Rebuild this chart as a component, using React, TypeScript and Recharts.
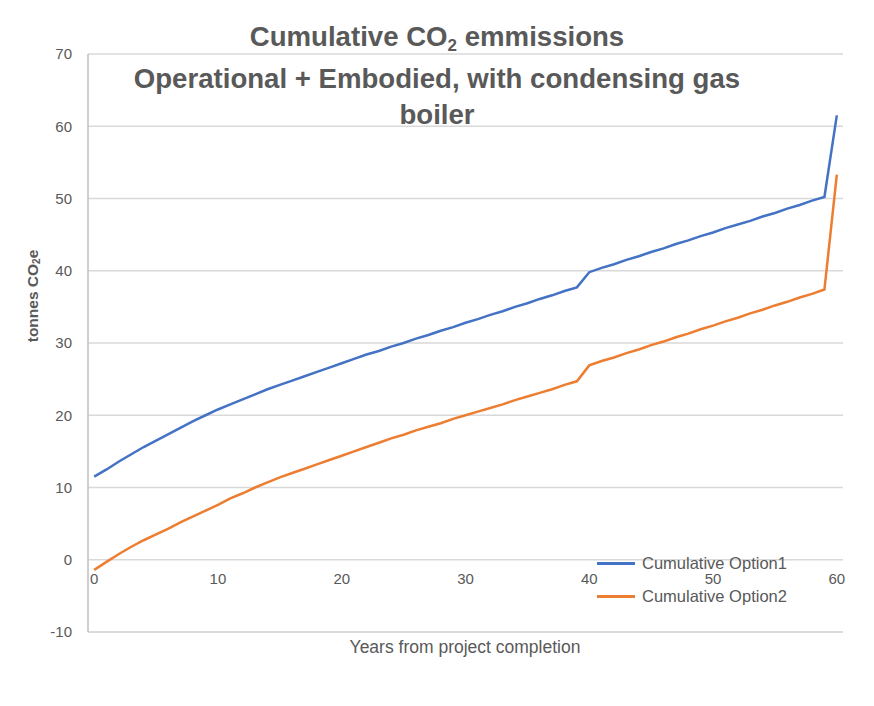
import React from 'react';
import { LineChart, Line, XAxis, YAxis, CartesianGrid, Customized } from 'recharts';

const years = [
  0, 1, 2, 3, 4, 5, 6, 7, 8, 9, 10, 11, 12, 13, 14, 15, 16, 17, 18, 19, 20,
  21, 22, 23, 24, 25, 26, 27, 28, 29, 30, 31, 32, 33, 34, 35, 36, 37, 38, 39, 40,
  41, 42, 43, 44, 45, 46, 47, 48, 49, 50, 51, 52, 53, 54, 55, 56, 57, 58, 59, 60,
];

const option1 = [
  11.5, 12.5, 13.6, 14.6, 15.6, 16.5, 17.4, 18.3, 19.2, 20.0, 20.8,
  21.5, 22.2, 22.9, 23.6, 24.2, 24.8, 25.4, 26.0, 26.6, 27.2,
  27.8, 28.4, 28.9, 29.5, 30.0, 30.6, 31.1, 31.7, 32.2, 32.8,
  33.3, 33.9, 34.4, 35.0, 35.5, 36.1, 36.6, 37.2, 37.7, 39.8,
  40.4, 40.9, 41.5, 42.0, 42.6, 43.1, 43.7, 44.2, 44.8, 45.3,
  45.9, 46.4, 46.9, 47.5, 48.0, 48.6, 49.1, 49.7, 50.2, 61.5,
];

const option2 = [
  -1.4, -0.3, 0.8, 1.8, 2.7, 3.5, 4.3, 5.2, 6.0, 6.8, 7.6,
  8.5, 9.2, 10.0, 10.7, 11.4, 12.0, 12.6, 13.2, 13.8, 14.4,
  15.0, 15.6, 16.2, 16.8, 17.3, 17.9, 18.4, 18.9, 19.5, 20.0,
  20.5, 21.0, 21.5, 22.1, 22.6, 23.1, 23.6, 24.2, 24.7, 26.9,
  27.5, 28.0, 28.6, 29.1, 29.7, 30.2, 30.8, 31.3, 31.9, 32.4,
  33.0, 33.5, 34.1, 34.6, 35.2, 35.7, 36.3, 36.8, 37.4, 53.3,
];

const seriesNames = ['Cumulative Option1', 'Cumulative Option2'];
const seriesColors = ['#4472C4', '#ED7D31'];
const xTicks = [0, 10, 20, 30, 40, 50, 60];
const yTicks = [-10, 0, 10, 20, 30, 40, 50, 60, 70];

const titleLines = ['Cumulative CO', 'Operational + Embodied, with condensing gas', 'boiler'];
const xAxisTitle = 'Years from project completion';

const data = years.map((yr, i) => ({ year: yr, option1: option1[i], option2: option2[i] }));

const FONT = '"Liberation Sans", Arial, sans-serif';
const TEXT = '#595959';

const XTick = (props: any) => {
  const { x, y, payload } = props;
  return (
    <text x={x} y={y - 62} textAnchor="middle" dominantBaseline="central" fill={TEXT} fontSize={15} fontFamily={FONT}>
      {payload.value}
    </text>
  );
};

const YTitle = () => {
  const cx = 32;
  const cy = 296;
  return (
    <text
      x={cx}
      y={cy}
      transform={`rotate(-90 ${cx} ${cy})`}
      textAnchor="middle"
      dominantBaseline="central"
      fill={TEXT}
      fontSize={15.5}
      fontWeight="bold"
      fontFamily={FONT}
    >
      <tspan>tonnes  CO</tspan>
      <tspan fontSize={10} dy={4}>2</tspan>
      <tspan dy={-4}>e</tspan>
    </text>
  );
};

const Frame = () => (
  <rect x={1} y={1} width={872} height={704} fill="none" stroke="#8c8c8c" strokeWidth={2} />
);

export default function App() {
  return (
    <div style={{ position: 'relative', width: 874, height: 706, margin: -8, background: '#fff', overflow: 'hidden' }}>
      <div style={{ position: 'absolute', left: 0, top: 0 }}>
        <LineChart
          width={874}
          height={706}
          data={data}
          margin={{ top: 54, right: 31, bottom: 44, left: 28 }}
        >
          <CartesianGrid vertical={false} stroke="#d9d9d9" strokeWidth={1.5} />
          <XAxis
            dataKey="year"
            type="number"
            domain={[-0.5, 60.5]}
            ticks={xTicks}
            interval={0}
            height={30}
            tickLine={false}
            axisLine={{ stroke: '#d9d9d9', strokeWidth: 1.5 }}
            tick={<XTick />}
          />
          <YAxis
            type="number"
            domain={[-10, 70]}
            ticks={yTicks}
            interval={0}
            width={60}
            tickLine={false}
            tickMargin={10}
            axisLine={{ stroke: '#bfbfbf', strokeWidth: 1.5 }}
            tick={{ fill: TEXT, fontSize: 15, fontFamily: FONT }}
            label={<YTitle />}
          />
          <Line
            type="linear"
            dataKey="option1"
            name={seriesNames[0]}
            stroke={seriesColors[0]}
            strokeWidth={2.5}
            dot={false}
            isAnimationActive={false}
          />
          <Line
            type="linear"
            dataKey="option2"
            name={seriesNames[1]}
            stroke={seriesColors[1]}
            strokeWidth={2.5}
            dot={false}
            isAnimationActive={false}
          />
          <Customized component={Frame} />
        </LineChart>
      </div>
      <div
        style={{
          position: 'absolute',
          left: 597,
          top: 547,
          fontFamily: FONT,
          fontSize: 16.5,
          color: TEXT,
        }}
      >
        {seriesNames.map((n, i) => (
          <div key={n} style={{ display: 'flex', alignItems: 'center', height: 33 }}>
            <div style={{ width: 38, height: 3, background: seriesColors[i], marginRight: 7 }} />
            <span style={{ whiteSpace: 'nowrap' }}>{n}</span>
          </div>
        ))}
      </div>
      <div
        style={{
          position: 'absolute',
          left: 0,
          top: 0,
          width: 874,
          fontFamily: FONT,
          fontWeight: 'bold',
          fontSize: 27.6,
          color: TEXT,
          textAlign: 'center',
        }}
      >
        <div style={{ position: 'absolute', left: 0, width: 874, top: 17, height: 40, lineHeight: '40px' }}>
          {titleLines[0]}
          <sub style={{ fontSize: 17, verticalAlign: -5, lineHeight: 0 }}>2</sub> emmissions
        </div>
        <div style={{ position: 'absolute', left: 0, width: 874, top: 59, height: 40, lineHeight: '40px' }}>
          {titleLines[1]}
        </div>
        <div style={{ position: 'absolute', left: 0, width: 874, top: 95, height: 40, lineHeight: '40px' }}>
          {titleLines[2]}
        </div>
      </div>
      <div
        style={{
          position: 'absolute',
          left: 0,
          width: 874,
          top: 636,
          height: 22,
          lineHeight: '22px',
          textAlign: 'center',
          paddingLeft: 56,
          boxSizing: 'border-box',
          fontFamily: FONT,
          fontSize: 17.5,
          color: TEXT,
          whiteSpace: 'nowrap',
        }}
      >
        {xAxisTitle}
      </div>
    </div>
  );
}
